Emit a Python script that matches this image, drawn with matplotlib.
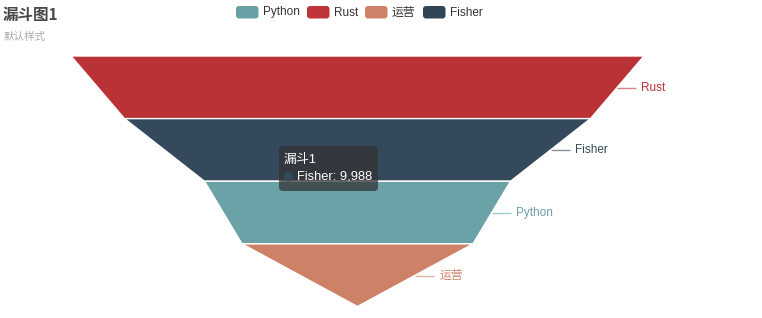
import matplotlib
matplotlib.use("Agg")
import matplotlib.pyplot as plt
from matplotlib.patches import Polygon, FancyBboxPatch, Circle

plt.rcParams['font.family'] = ['Liberation Sans', 'Noto Sans CJK SC', 'DejaVu Sans']

# Funnel data
names = ["Python", "Rust", "运营", "Fisher"]
values = [6560, 12280, 4950, 9988]
colors = ["#6aa2a8", "#bb3236", "#cd8166", "#34495b"]
legend_colors = ["#68a0a6", "#c0353a", "#d08268", "#304556"]

series_name = "漏斗1"
title = "漏斗图1"
subtitle = "默认样式"
tooltip_item = "Fisher"

W, H = 762, 318
fig = plt.figure(figsize=(W / 100, H / 100), dpi=100)
ax = fig.add_axes([0, 0, 1, 1])
ax.set_xlim(0, W)
ax.set_ylim(H, 0)
ax.axis("off")

# Funnel geometry (pixel space)
cx = 357.5
top, bottom = 56.0, 306.5
px_per_unit = 466.0 / 9988.0

order = sorted(range(len(values)), key=lambda i: -values[i])
seg_h = (bottom - top) / len(order)

def width_of(v):
    return v * px_per_unit

for k, i in enumerate(order):
    wt = width_of(values[i])
    wb = width_of(values[order[k + 1]]) if k + 1 < len(order) else 0.0
    y0 = top + k * seg_h
    y1 = y0 + seg_h
    poly = Polygon([(cx - wt / 2, y0), (cx + wt / 2, y0),
                    (cx + wb / 2, y1), (cx - wb / 2, y1)],
                   closed=True, facecolor=colors[i], edgecolor="white",
                   linewidth=1.0, joinstyle="miter")
    ax.add_patch(poly)
    # right-side label with leader line
    ym = (y0 + y1) / 2 + 0.5
    xe = cx + (wt + wb) / 4
    ax.plot([xe, xe + 19], [ym, ym], color=colors[i], alpha=0.6, lw=1.0,
            solid_capstyle="butt")
    ax.text(xe + 24, ym, names[i], color=colors[i], fontsize=8.5,
            ha="left", va="center")

# Title and subtitle
ax.text(3, 14.5, title, fontsize=11.2, fontweight="bold", color="#464646",
        ha="left", va="center", family=['Noto Sans CJK SC', 'DejaVu Sans'])
ax.text(4, 37, subtitle, fontsize=7.6, color="#aaaaaa",
        ha="left", va="center", family=['Noto Sans CJK SC', 'DejaVu Sans'])

# Legend
leg_x = [236, 307, 365, 423]
for x, name, c in zip(leg_x, names, legend_colors):
    ax.add_patch(FancyBboxPatch((x, 6), 22.5, 12.5,
                                boxstyle="round,pad=0,rounding_size=3",
                                facecolor=c, edgecolor="none"))
    ax.text(x + 27, 12.5, name, fontsize=8.5, color="#333333",
            ha="left", va="center")

# Tooltip for the hovered item
ti = names.index(tooltip_item)
ax.add_patch(FancyBboxPatch((279, 146), 99, 45,
                            boxstyle="round,pad=0,rounding_size=4",
                            facecolor=(50 / 255, 50 / 255, 50 / 255, 0.72),
                            edgecolor="none", zorder=5))
ax.text(284, 160, series_name, fontsize=9.3, color="white",
        ha="left", va="center", zorder=6)
ax.add_patch(Circle((288.5, 176.5), 4.8, facecolor=colors[ti],
                    edgecolor="none", zorder=6))
ax.text(297, 176.5, f"{tooltip_item}: {values[ti]:,}", fontsize=9.3,
        color="white", ha="left", va="center", zorder=6)

fig.savefig("out.png", dpi=100)
